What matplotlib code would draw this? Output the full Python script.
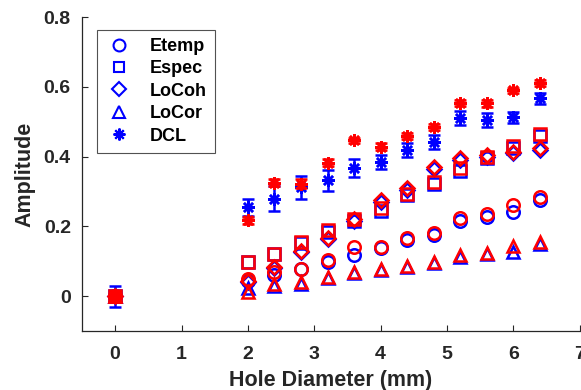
import matplotlib
matplotlib.use("Agg")
import matplotlib.pyplot as plt

plt.rcParams['font.family'] = ['Liberation Sans', 'DejaVu Sans']
plt.rcParams['font.weight'] = 'bold'

# hole diameters (mm)
hole_d = [0, 2.0, 2.4, 2.8, 3.2, 3.6, 4.0, 4.4, 4.8, 5.2, 5.6, 6.0, 6.4]

# blue set
etemp_b = [0, 0.045, 0.062, 0.078, 0.097, 0.118, 0.137, 0.160, 0.175, 0.217, 0.227, 0.241, 0.275]
espec_b = [0, 0.097, 0.120, 0.153, 0.185, 0.215, 0.245, 0.290, 0.323, 0.360, 0.395, 0.425, 0.460]
locoh_b = [0, 0.040, 0.080, 0.128, 0.163, 0.217, 0.270, 0.305, 0.365, 0.390, 0.400, 0.410, 0.420]
locor_b = [0, 0.025, 0.030, 0.036, 0.052, 0.067, 0.074, 0.085, 0.094, 0.113, 0.120, 0.127, 0.150]
dcl_b = [0, 0.255, 0.280, 0.313, 0.333, 0.367, 0.385, 0.420, 0.442, 0.510, 0.505, 0.513, 0.567]
dcl_b_err = [0.030, 0.025, 0.035, 0.033, 0.030, 0.025, 0.020, 0.020, 0.020, 0.020, 0.020, 0.015, 0.015]

# red set
etemp_r = [0, 0.050, 0.070, 0.078, 0.103, 0.140, 0.142, 0.166, 0.180, 0.224, 0.235, 0.262, 0.285]
espec_r = [0, 0.097, 0.122, 0.155, 0.190, 0.222, 0.252, 0.293, 0.327, 0.367, 0.400, 0.432, 0.465]
locoh_r = [0, 0.045, 0.084, 0.131, 0.167, 0.220, 0.275, 0.310, 0.370, 0.395, 0.405, 0.413, 0.425]
locor_r = [0, 0.012, 0.035, 0.040, 0.055, 0.070, 0.078, 0.088, 0.097, 0.118, 0.123, 0.143, 0.155]
dcl_r = [0, 0.218, 0.325, 0.323, 0.383, 0.447, 0.428, 0.460, 0.485, 0.554, 0.553, 0.590, 0.612]
dcl_r_err = [0.010, 0.010, 0.010, 0.012, 0.010, 0.008, 0.010, 0.008, 0.008, 0.008, 0.010, 0.008, 0.008]

labels = ["Etemp", "Espec", "LoCoh", "LoCor", "DCL"]
markers = ["o", "s", "D", "^", (8, 2, 0)]
msizes = [9, 8, 7.5, 9, 9]

x_ticks = [0, 1, 2, 3, 4, 5, 6, 7]
y_ticks = [0, 0.2, 0.4, 0.6, 0.8]
y_ticklabels = ["0", "0.2", "0.4", "0.6", "0.8"]

fig = plt.figure(figsize=(5.81, 3.90), dpi=100)
ax = fig.add_axes([0.141, 0.151, 0.857, 0.805])

blue_sets = [etemp_b, espec_b, locoh_b, locor_b, dcl_b]
red_sets = [etemp_r, espec_r, locoh_r, locor_r, dcl_r]

handles = []
for i, (vals, lab) in enumerate(zip(blue_sets, labels)):
    err = dcl_b_err if lab == "DCL" else None
    ax.errorbar(hole_d, vals, yerr=err, fmt='none', ecolor='blue',
                elinewidth=1.8, capsize=4, capthick=1.8)
    ax.plot(hole_d, vals, linestyle='none', marker=markers[i], mfc='none',
            mec='blue', ms=msizes[i], mew=1.8)
    # legend proxy with thinner edge
    h, = ax.plot([], [], linestyle='none', marker=markers[i], mfc='none',
                 mec='blue', ms=msizes[i] * 0.95, mew=1.5, label=lab)
    handles.append(h)

for i, (vals, lab) in enumerate(zip(red_sets, labels)):
    err = dcl_r_err if lab == "DCL" else None
    ax.errorbar(hole_d, vals, yerr=err, fmt='none', ecolor='red',
                elinewidth=1.8, capsize=4, capthick=1.8)
    ax.plot(hole_d, vals, linestyle='none', marker=markers[i], mfc='none',
            mec='red', ms=msizes[i], mew=1.8)

ax.set_xlim(-0.5, 7)
ax.set_ylim(-0.1, 0.8)
ax.set_xticks(x_ticks)
ax.set_yticks(y_ticks)
ax.set_yticklabels(y_ticklabels)

ax.spines['top'].set_visible(False)
ax.spines['right'].set_visible(False)
for s in ['left', 'bottom']:
    ax.spines[s].set_color('#262626')
    ax.spines[s].set_linewidth(0.9)
ax.tick_params(direction='in', length=4, width=0.8, colors='#262626',
               labelsize=14)
ax.tick_params(axis='x', pad=11)
ax.tick_params(axis='y', pad=8)
for t in ax.get_xticklabels() + ax.get_yticklabels():
    t.set_fontweight('bold')

ax.set_xlabel("Hole Diameter (mm)", fontsize=15.5, fontweight='bold',
              color='#262626', labelpad=5)
ax.set_ylabel("Amplitude", fontsize=15.5, fontweight='bold',
              color='#262626', labelpad=6)

leg = ax.legend(handles=handles, loc='upper left', bbox_to_anchor=(0.03, 0.96),
                prop={'weight': 'bold', 'size': 13},
                frameon=True, fancybox=False, edgecolor='#262626',
                handlelength=1.6, handletextpad=0.9, labelspacing=0.3,
                borderpad=0.45, borderaxespad=0)
leg.get_frame().set_linewidth(0.8)

fig.savefig("out.png", dpi=100)
